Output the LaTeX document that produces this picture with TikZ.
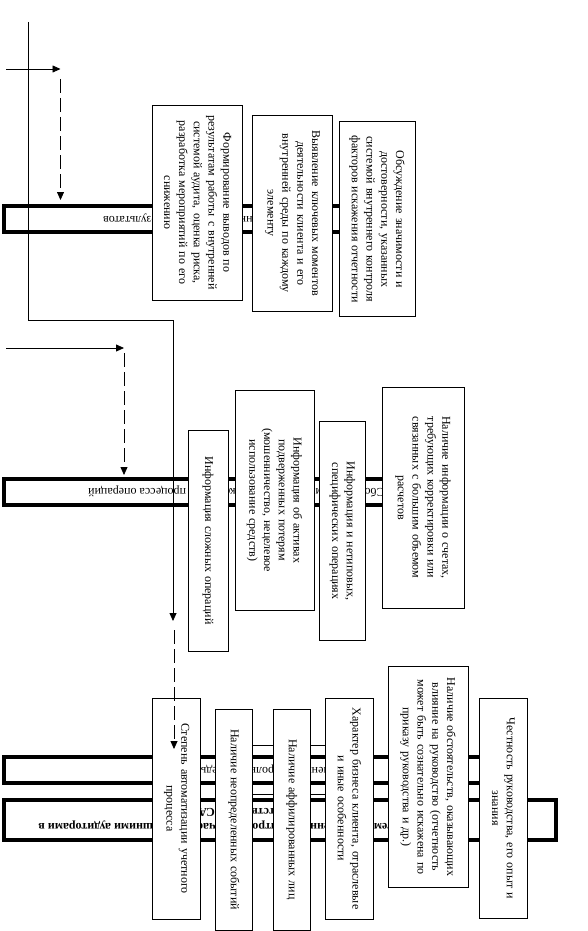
\documentclass[tikz,border=0pt]{standalone}
\usepackage{fontspec}
\setmainfont{Liberation Serif}
\usetikzlibrary{arrows.meta}
\begin{document}
\begin{tikzpicture}[x=1pt,y=-1pt,
  bar/.style={draw, fill=white, line width=3.6pt, inner sep=0pt},
  bartext/.style={rotate=180, inner sep=0pt, font=\fontsize{12}{15}\selectfont},
  vbox/.style={draw, fill=white, line width=0.8pt, rotate=-90, inner sep=0pt, align=center, font=\fontsize{12}{14.8}\selectfont},
  ghost/.style={draw, line width=0.8pt, inner sep=0pt},
  link/.style={line width=0.8pt},
  arr/.style={-{Triangle[length=8pt,width=7pt]}},
  dlink/.style={line width=0.8pt, dash pattern=on 14pt off 5pt}]
\useasboundingbox (0,0) rectangle (588,931);

% horizontal bars
\node[bar, minimum width=409.5pt, minimum height=26.5pt] (bar1) at (208.5,219) {};
\node[bar, minimum width=459.5pt, minimum height=26.5pt] (bar2) at (233.5,492) {};
\node[bar, minimum width=522.5pt, minimum height=26.5pt] (bar3) at (265,770) {};
\node[bar, minimum width=552.5pt, minimum height=40.5pt] (bar4) at (280,820) {};

% bar texts (upside down)
\node[bartext, anchor=east] (t1) at (103,219) {Оценка и обобщение результатов};
\node[bartext, anchor=east] (t2) at (88,492) {Сбор информации о системе контроля процесса операций};
\node[bartext, anchor=east] (t3) at (198,770) {Изучение контрольной среды};
\node[bartext, align=center, font=\fontsize{12}{15}\selectfont\bfseries] (t4) at (254,820)
  {Элементы системы внутреннего контроля, изучаемые внешними аудиторами в\\ соответствии с МСА};

% partly hidden frame
\node[ghost, minimum width=75pt, minimum height=49pt] (gh) at (289.5,769.5) {};

% upper boxes
\node[vbox, minimum width=195pt, minimum height=90pt, text width=191pt] (b1) at (197.7,202.5)
  {Формирование выводов по\\ результатам работы с внутренней\\ системой аудита, оценка риска,\\ разработка мероприятий по его\\ снижению};
\node[vbox, minimum width=196.7pt, minimum height=80.4pt, text width=192pt] (b2) at (292.5,213.3)
  {Выявление ключевых моментов\\ деятельности клиента и его\\ внутренней среды по каждому\\ элементу};
\node[vbox, minimum width=195pt, minimum height=76pt, text width=191pt] (b3) at (377,219.2)
  {Обсуждение значимости и\\ достоверности, указанных\\ системой внутреннего контроля\\ факторов искажения отчетности};

% middle boxes
\node[vbox, minimum width=221pt, minimum height=40pt, text width=217pt] (bA) at (208,540.5)
  {Информация сложных операций};
\node[vbox, minimum width=219.5pt, minimum height=79pt, text width=215pt] (bB) at (274.5,500.25)
  {Информация об активах\\ подверженных потерям\\ (мошенничество, нецелевое\\ использование средств)};
\node[vbox, minimum width=218.8pt, minimum height=46.7pt, text width=214pt] (bC) at (342.3,531.1)
  {Информация и нетиповых,\\ специфических операциях};
\node[vbox, minimum width=221pt, minimum height=82pt, text width=217pt] (bD) at (423,497.5)
  {Наличие информации о счетах,\\ требующих корректировки или\\ связанных с большим объемом\\ расчетов};

% lower boxes
\node[vbox, minimum width=221pt, minimum height=48pt, text width=217pt] (bE) at (176.7,808.5)
  {Степень автоматизации учетного\\ процесса};
\node[vbox, minimum width=221pt, minimum height=36.6pt, text width=217pt] (bF) at (234,819.5)
  {Наличие неопределенных событий};
\node[vbox, minimum width=221pt, minimum height=37.7pt, text width=217pt] (bG) at (291.8,819.5)
  {Наличие аффилированных лиц};
\node[vbox, minimum width=221pt, minimum height=47.6pt, text width=217pt] (bH) at (349.5,808.5)
  {Характер бизнеса клиента, отраслевые\\ и иные особенности};
\node[vbox, minimum width=221pt, minimum height=80pt, text width=217pt] (bI) at (428,777)
  {Наличие обстоятельств, оказывающих\\ влияние на руководство (отчетность\\ может быть сознательно искажена по\\ приказу руководства и др.)};
\node[vbox, minimum width=220.5pt, minimum height=48.7pt, text width=216pt] (bJ) at (503.3,808.2)
  {Честность руководства, его опыт и\\ знания};

% connectors
\coordinate (s1) at (28.5,22);
\coordinate (k1) at (28.5,320.8);
\coordinate (k2) at (173,320.8);
\coordinate (e1) at (173,621);
\draw[link, arr] (s1) -- (k1) -- (k2) -- (e1);
\coordinate (d3s) at (174,630);
\coordinate (d3e) at (174,749);
\draw[dlink, arr] (d3s) -- (d3e);

\coordinate (a1s) at (6,69);
\coordinate (a1e) at (60.5,69);
\draw[link, arr] (a1s) -- (a1e);
\coordinate (d1s) at (60.5,79);
\coordinate (d1e) at (60.5,200);
\draw[dlink, arr] (d1s) -- (d1e);

\coordinate (a2s) at (6,348);
\coordinate (a2e) at (124,348);
\draw[link, arr] (a2s) -- (a2e);
\coordinate (d2s) at (124,353);
\coordinate (d2e) at (124,475);
\draw[dlink, arr] (d2s) -- (d2e);
\end{tikzpicture}
\end{document}
